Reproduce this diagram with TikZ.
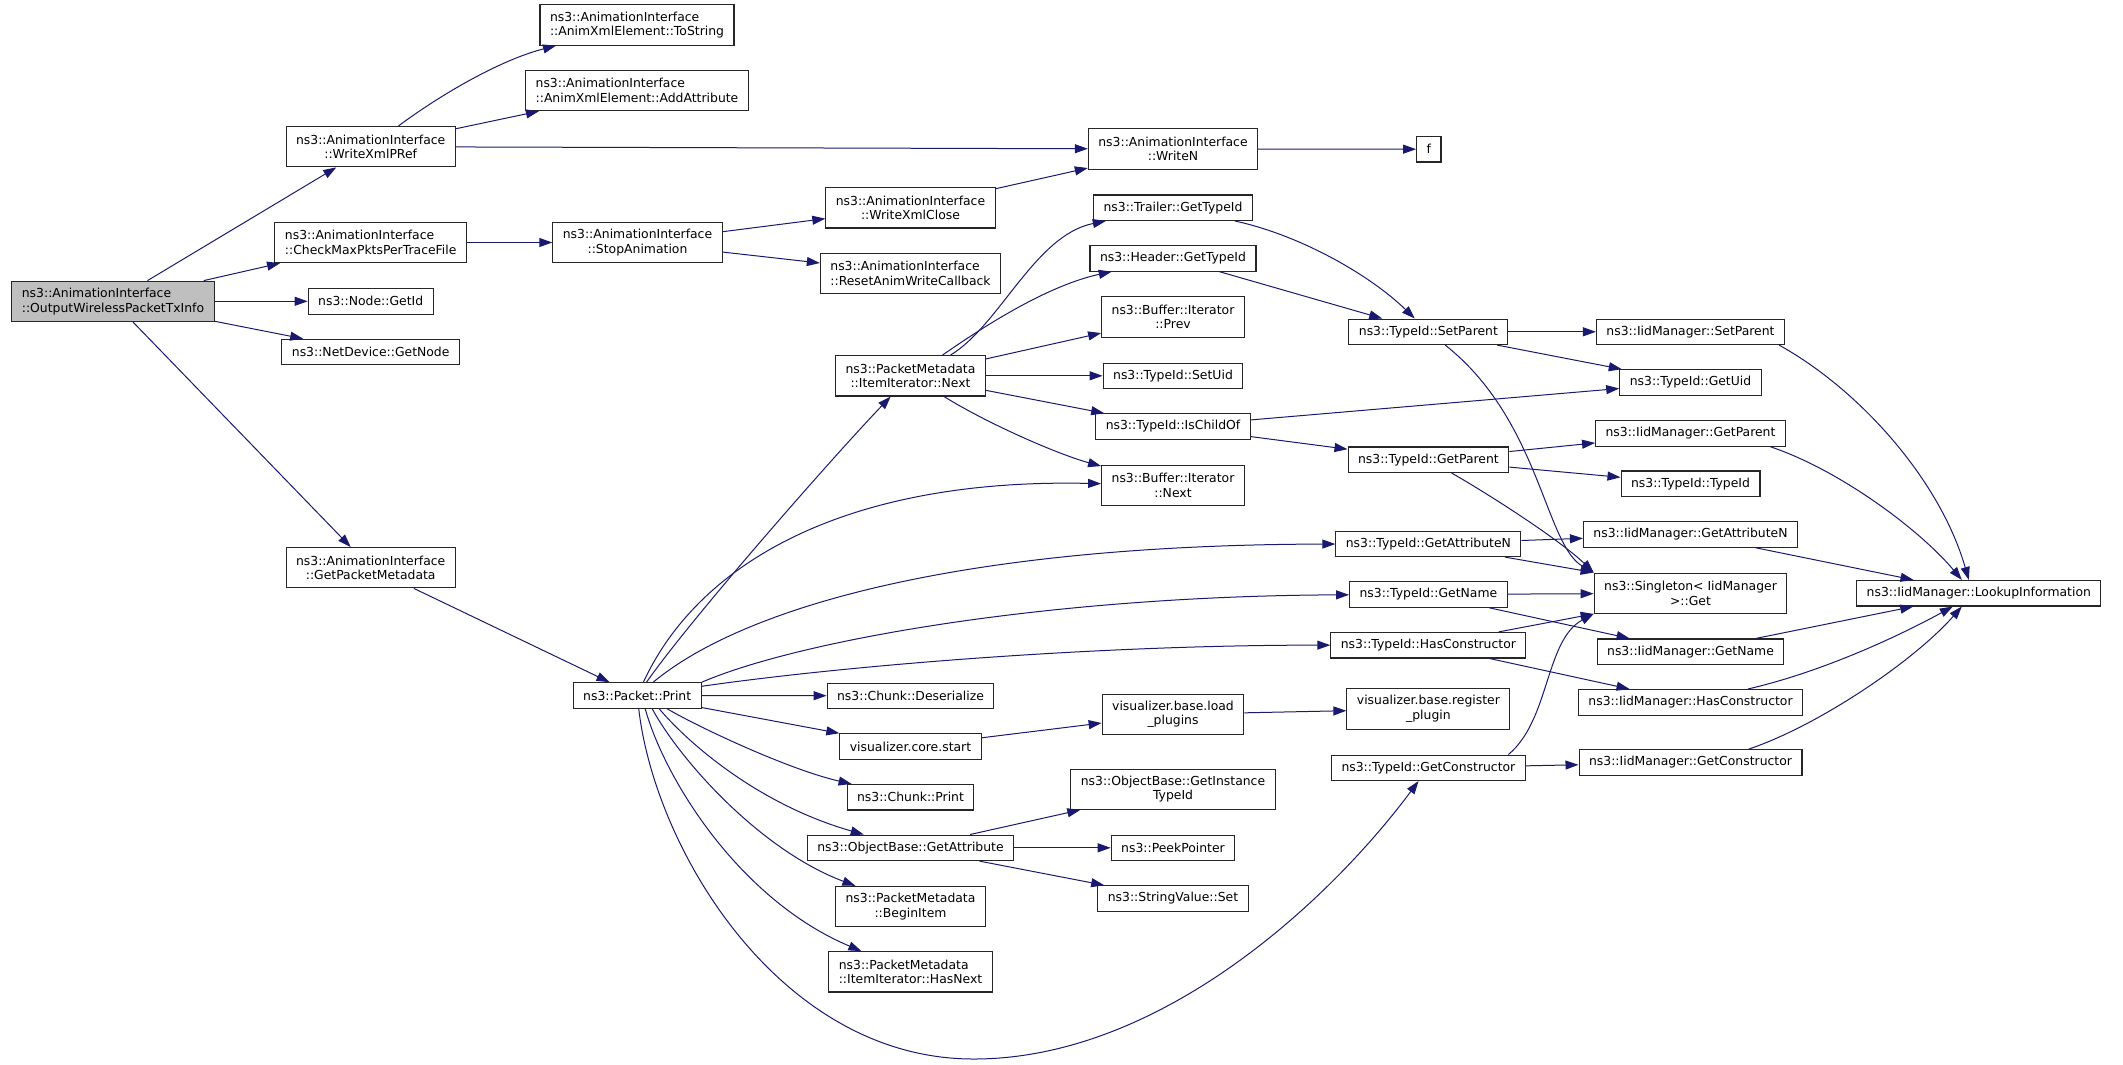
\documentclass[tikz,border=0pt]{standalone}
\usepackage{fontspec}
\setmainfont{DejaVu Sans}
\usepackage{tikz}
\usepackage{xcolor}
\usetikzlibrary{positioning, arrows.meta}

\definecolor{callblue}{HTML}{191970}
\tikzset{
    fn/.style={rectangle, draw=black!85, line width=1.1pt, fill=white, inner xsep=10pt, inner ysep=2pt, minimum height=25.5pt, font=\fontsize{12.4}{14.6}\selectfont},
    fntwo/.style={fn, minimum height=40.3pt, align=center},
    fnleft/.style={fn, minimum height=40.3pt, align=left},
    root/.style={fnleft, fill=black!25},
    call/.style={draw=callblue, line width=1pt, -{Triangle[length=13pt, width=9pt]}}
}

\begin{document}
\begin{tikzpicture}[x=1pt, y=-1pt]
    \useasboundingbox (0,0) rectangle (2123,1065);

    \node[root] (txinfo) at (113, 301.3) {ns3::AnimationInterface\\::OutputWirelessPacketTxInfo};

    \node[fntwo] (writepref) at (370.7, 146.7) {ns3::AnimationInterface\\::WriteXmlPRef};
    \node[fnleft] (checkmax) at (370.7, 242.5) {ns3::AnimationInterface\\::CheckMaxPktsPerTraceFile};
    \node[fn] (nodeid) at (370.7, 301.3) {ns3::Node::GetId};
    \node[fn] (devnode) at (370.7, 352) {ns3::NetDevice::GetNode};
    \node[fntwo] (getmeta) at (370.7, 567.7) {ns3::AnimationInterface\\::GetPacketMetadata};

    \node[fnleft] (tostring) at (637, 25) {ns3::AnimationInterface\\::AnimXmlElement::ToString};
    \node[fnleft] (addattr) at (637, 90.5) {ns3::AnimationInterface\\::AnimXmlElement::AddAttribute};
    \node[fntwo] (stopanim) at (637.5, 242.5) {ns3::AnimationInterface\\::StopAnimation};
    \node[fn] (print) at (637.2, 695.5) {ns3::Packet::Print};

    \node[fntwo] (writeclose) at (910.5, 207.8) {ns3::AnimationInterface\\::WriteXmlClose};
    \node[fnleft] (resetcb) at (910.5, 273.2) {ns3::AnimationInterface\\::ResetAnimWriteCallback};
    \node[fntwo] (itnext) at (910.5, 375.8) {ns3::PacketMetadata\\::ItemIterator::Next};
    \node[fn] (chunkdeser) at (910.5, 695.8) {ns3::Chunk::Deserialize};
    \node[fn] (corestart) at (910.5, 746.5) {visualizer.core.start};
    \node[fn] (chunkprint) at (910.5, 797.2) {ns3::Chunk::Print};
    \node[fn] (getattr) at (910.5, 847.8) {ns3::ObjectBase::GetAttribute};
    \node[fntwo] (beginitem) at (910.5, 906.5) {ns3::PacketMetadata\\::BeginItem};
    \node[fnleft] (hasnext) at (910.5, 971.8) {ns3::PacketMetadata\\::ItemIterator::HasNext};

    \node[fntwo] (writen) at (1173, 149) {ns3::AnimationInterface\\::WriteN};
    \node[fn] (trailer) at (1173, 207.7) {ns3::Trailer::GetTypeId};
    \node[fn] (header) at (1173, 258.3) {ns3::Header::GetTypeId};
    \node[fntwo] (bufprev) at (1173, 317) {ns3::Buffer::Iterator\\::Prev};
    \node[fn] (setuid) at (1173, 375.8) {ns3::TypeId::SetUid};
    \node[fn] (ischild) at (1173, 426.5) {ns3::TypeId::IsChildOf};
    \node[fntwo] (bufnext) at (1173, 485.3) {ns3::Buffer::Iterator\\::Next};
    \node[fntwo] (loadplug) at (1173, 714.3) {visualizer.base.load\\\_plugins};
    \node[fntwo] (insttype) at (1173, 789.2) {ns3::ObjectBase::GetInstance\\TypeId};
    \node[fn] (peek) at (1173, 847.8) {ns3::PeekPointer};
    \node[fn] (strset) at (1173, 898.5) {ns3::StringValue::Set};

    \node[fn] (fbox) at (1428.8, 149.2) {f};
    \node[fn] (setparent) at (1428.4, 331.8) {ns3::TypeId::SetParent};
    \node[fn] (getparent) at (1428.4, 459.7) {ns3::TypeId::GetParent};
    \node[fn] (getattrn) at (1428.4, 543.8) {ns3::TypeId::GetAttributeN};
    \node[fn] (getname) at (1428.4, 594.5) {ns3::TypeId::GetName};
    \node[fn] (hascons) at (1428.4, 645.2) {ns3::TypeId::HasConstructor};
    \node[fntwo] (regplug) at (1428.4, 709) {visualizer.base.register\\\_plugin};
    \node[fn] (getcons) at (1428.4, 767.8) {ns3::TypeId::GetConstructor};

    \node[fn] (iidsetparent) at (1690.5, 331.8) {ns3::IidManager::SetParent};
    \node[fn] (getuid) at (1690.5, 382.5) {ns3::TypeId::GetUid};
    \node[fn] (iidgetparent) at (1690.5, 433.3) {ns3::IidManager::GetParent};
    \node[fn] (typeidctor) at (1690.5, 483.7) {ns3::TypeId::TypeId};
    \node[fn] (iidgetattrn) at (1690.5, 534.5) {ns3::IidManager::GetAttributeN};
    \node[fntwo] (singleton) at (1690.5, 593.2) {ns3::Singleton{<} IidManager\\{>}::Get};
    \node[fn] (iidgetname) at (1690.5, 651.7) {ns3::IidManager::GetName};
    \node[fn] (iidhascons) at (1690.5, 702.3) {ns3::IidManager::HasConstructor};
    \node[fn] (iidgetcons) at (1690.5, 762.5) {ns3::IidManager::GetConstructor};

    \node[fn] (lookup) at (1978.8, 593.2) {ns3::IidManager::LookupInformation};

    \coordinate (dip) at (972, 1059);

    \draw[call] (txinfo) -- (writepref);
    \draw[call] (txinfo) -- (checkmax);
    \draw[call] (txinfo) -- (nodeid);
    \draw[call] (txinfo) -- (devnode);
    \draw[call] (txinfo) -- (getmeta);
    \draw[call] (writepref) .. controls (440, 95) and (500, 60) .. (tostring);
    \draw[call] (writepref) -- (addattr);
    \draw[call] (writepref) -- (writen);
    \draw[call] (writen) -- (fbox);
    \draw[call] (checkmax) -- (stopanim);
    \draw[call] (stopanim) -- (writeclose);
    \draw[call] (stopanim) -- (resetcb);
    \draw[call] (writeclose) -- (writen);
    \draw[call] (getmeta) -- (print);

    \draw[call] (print) .. controls (690, 620) and (830, 460) .. (itnext);
    \draw[call] (print) .. controls (700, 560) and (850, 478) .. (bufnext);
    \draw[call] (print) .. controls (740, 610) and (950, 545) .. (getattrn);
    \draw[call] (print.north east) .. controls (800, 640) and (1050, 596) .. (getname);
    \draw[call] (print) .. controls (850, 665) and (1100, 645) .. (hascons);
    \draw[call] (print) -- (chunkdeser);
    \draw[call] (print) -- (corestart);
    \draw[call] ([xshift=30pt]print.south) .. controls (700, 728) and (790, 770) .. (chunkprint);
    \draw[call] ([xshift=22pt]print.south) .. controls (690, 745) and (760, 805) .. (getattr);
    \draw[call] ([xshift=15pt]print.south) .. controls (680, 760) and (760, 850) .. (beginitem);
    \draw[call] ([xshift=8pt]print.south) .. controls (665, 780) and (740, 900) .. (hasnext);
    \draw[call] (print) .. controls (655, 850) and (780, 1058) .. (dip) .. controls (1160, 1060) and (1330, 900) .. (getcons);

    \draw[call] ([xshift=40pt]itnext.north) .. controls (1000, 325) and (1035, 235) .. (trailer);
    \draw[call] ([xshift=32pt]itnext.north) .. controls (990, 322) and (1050, 285) .. (header);
    \draw[call] (itnext) -- (bufprev);
    \draw[call] (itnext) -- (setuid);
    \draw[call] (itnext) -- (ischild);
    \draw[call] (itnext) .. controls (990, 425) and (1060, 455) .. (bufnext);

    \draw[call] (trailer) .. controls (1300, 235) and (1370, 275) .. (setparent);
    \draw[call] (header) -- (setparent);
    \draw[call] (setparent) -- (iidsetparent);
    \draw[call] (setparent) -- (getuid);
    \draw[call] (setparent) .. controls (1540, 420) and (1545, 545) .. (singleton.north west);
    \draw[call] (ischild) -- (getuid);
    \draw[call] (ischild) -- (getparent);
    \draw[call] (getparent) -- (iidgetparent);
    \draw[call] (getparent) -- (typeidctor);
    \draw[call] (getparent) .. controls (1490, 495) and (1560, 540) .. (singleton.north west);
    \draw[call] (getattrn) -- (iidgetattrn);
    \draw[call] (getattrn) -- (singleton.north west);
    \draw[call] (getname) -- (singleton);
    \draw[call] (getname) -- (iidgetname);
    \draw[call] (hascons) -- (singleton.south west);
    \draw[call] (hascons) -- (iidhascons);
    \draw[call] ([xshift=80pt]getcons.north) .. controls (1550, 720) and (1545, 640) .. (singleton.south west);
    \draw[call] (getcons) -- (iidgetcons);

    \draw[call] ([xshift=-6pt]iidsetparent.south east) .. controls (1860, 390) and (1940, 480) .. ([xshift=-10pt]lookup.north);
    \draw[call] ([xshift=-16pt]iidgetparent.south east) .. controls (1840, 470) and (1920, 530) .. ([xshift=-17pt]lookup.north);
    \draw[call] (iidgetattrn) -- (lookup);
    \draw[call] (iidgetname) -- (lookup);
    \draw[call] (iidhascons) .. controls (1830, 670) and (1910, 630) .. ([xshift=-26pt]lookup.south);
    \draw[call] ([xshift=58pt]iidgetcons.north) .. controls (1820, 725) and (1915, 660) .. ([xshift=-17pt]lookup.south);

    \draw[call] (corestart) -- (loadplug);
    \draw[call] (loadplug) -- (regplug);
    \draw[call] (getattr) -- (insttype);
    \draw[call] (getattr) -- (peek);
    \draw[call] (getattr) -- (strset);
\end{tikzpicture}
\end{document}
